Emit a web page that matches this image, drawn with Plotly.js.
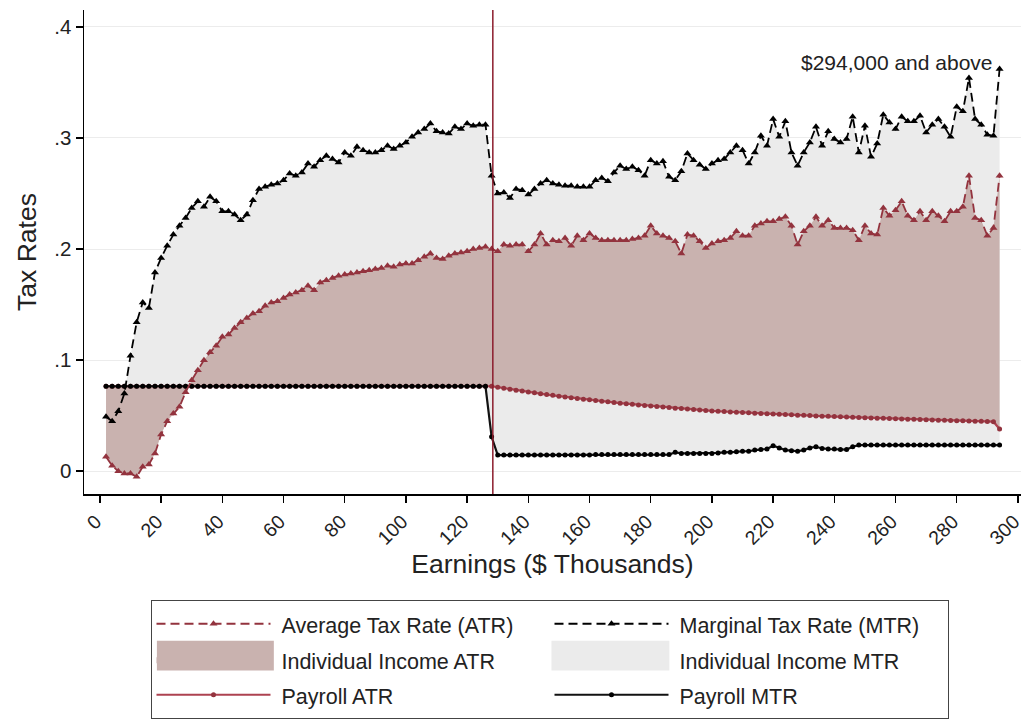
<!DOCTYPE html>
<html>
<head>
<meta charset="utf-8">
<script src="https://cdn.plot.ly/plotly-3.0.1.min.js"></script>
<style>html,body{margin:0;padding:0;background:#fff;}</style>
</head>
<body>
<div id="chart" style="width:1026px;height:724px;"></div>
<script>
// Earnings bins ($ thousands)
const earnings = [
  2,4,6,8,10,12,14,16,18,20,
  22,24,26,28,30,32,34,36,38,40,
  42,44,46,48,50,52,54,56,58,60,
  62,64,66,68,70,72,74,76,78,80,
  82,84,86,88,90,92,94,96,98,100,
  102,104,106,108,110,112,114,116,118,120,
  122,124,126,128,130,132,134,136,138,140,
  142,144,146,148,150,152,154,156,158,160,
  162,164,166,168,170,172,174,176,178,180,
  182,184,186,188,190,192,194,196,198,200,
  202,204,206,208,210,212,214,216,218,220,
  222,224,226,228,230,232,234,236,238,240,
  242,244,246,248,250,252,254,256,258,260,
  262,264,266,268,270,272,274,276,278,280,
  282,284,286,288,290,292,294
];

// Marginal Tax Rate (MTR)
const mtr = [
  0.049,0.045,0.054,0.070,0.104,0.134,0.152,0.147,0.179,0.192,
  0.203,0.213,0.221,0.228,0.237,0.243,0.238,0.247,0.243,0.234,
  0.234,0.231,0.226,0.231,0.244,0.254,0.256,0.258,0.259,0.262,
  0.268,0.266,0.269,0.277,0.274,0.280,0.284,0.281,0.278,0.287,
  0.284,0.292,0.289,0.287,0.287,0.289,0.293,0.290,0.293,0.296,
  0.301,0.305,0.308,0.313,0.306,0.305,0.304,0.310,0.308,0.313,
  0.311,0.312,0.312,0.266,0.250,0.251,0.246,0.254,0.253,0.249,
  0.254,0.259,0.262,0.259,0.258,0.257,0.257,0.256,0.256,0.256,
  0.262,0.264,0.261,0.269,0.275,0.272,0.274,0.271,0.266,0.280,
  0.277,0.279,0.265,0.262,0.270,0.286,0.280,0.276,0.272,0.277,
  0.280,0.281,0.287,0.293,0.289,0.277,0.287,0.302,0.293,0.317,
  0.301,0.315,0.287,0.275,0.287,0.296,0.310,0.293,0.306,0.299,
  0.296,0.299,0.319,0.287,0.311,0.283,0.295,0.321,0.314,0.308,
  0.319,0.315,0.315,0.320,0.305,0.312,0.317,0.310,0.301,0.328,
  0.324,0.354,0.317,0.312,0.303,0.302,0.362
];

// Average Tax Rate (ATR)
const atr = [
  0.013,0.005,0.000,-0.002,-0.002,-0.005,0.004,0.006,0.016,0.033,
  0.045,0.052,0.058,0.071,0.082,0.091,0.100,0.107,0.113,0.121,
  0.123,0.129,0.134,0.138,0.142,0.144,0.149,0.152,0.153,0.156,
  0.159,0.161,0.163,0.167,0.163,0.170,0.172,0.174,0.176,0.177,
  0.178,0.179,0.180,0.181,0.182,0.183,0.185,0.184,0.186,0.187,
  0.187,0.190,0.193,0.196,0.192,0.191,0.194,0.196,0.197,0.198,
  0.200,0.201,0.202,0.200,0.198,0.204,0.203,0.204,0.204,0.198,
  0.204,0.214,0.204,0.208,0.207,0.210,0.203,0.212,0.208,0.214,
  0.210,0.208,0.208,0.208,0.208,0.208,0.209,0.210,0.212,0.221,
  0.214,0.212,0.210,0.207,0.196,0.213,0.212,0.207,0.201,0.205,
  0.207,0.208,0.210,0.216,0.212,0.212,0.221,0.223,0.225,0.225,
  0.227,0.229,0.221,0.204,0.216,0.221,0.229,0.221,0.226,0.219,
  0.219,0.219,0.217,0.208,0.221,0.214,0.213,0.237,0.230,0.235,
  0.243,0.230,0.226,0.234,0.226,0.234,0.230,0.225,0.234,0.234,
  0.238,0.266,0.228,0.226,0.212,0.219,0.266
];

// Payroll ATR
const payrollAtr = [
  0.0765,0.0765,0.0765,0.0765,0.0765,0.0765,0.0765,0.0765,0.0765,0.0765,
  0.0765,0.0765,0.0765,0.0765,0.0765,0.0765,0.0765,0.0765,0.0765,0.0765,
  0.0765,0.0765,0.0765,0.0765,0.0765,0.0765,0.0765,0.0765,0.0765,0.0765,
  0.0765,0.0765,0.0765,0.0765,0.0765,0.0765,0.0765,0.0765,0.0765,0.0765,
  0.0765,0.0765,0.0765,0.0765,0.0765,0.0765,0.0765,0.0765,0.0765,0.0765,
  0.0765,0.0765,0.0765,0.0765,0.0765,0.0765,0.0765,0.0765,0.0765,0.0765,
  0.0765,0.0765,0.0765,0.0765,0.0757,0.0748,0.0739,0.0730,0.0722,0.0714,
  0.0706,0.0698,0.0690,0.0683,0.0676,0.0669,0.0662,0.0655,0.0649,0.0643,
  0.0636,0.0630,0.0625,0.0619,0.0613,0.0608,0.0603,0.0597,0.0592,0.0587,
  0.0582,0.0578,0.0573,0.0568,0.0564,0.0560,0.0555,0.0551,0.0547,0.0543,
  0.0540,0.0537,0.0534,0.0531,0.0528,0.0526,0.0523,0.0520,0.0518,0.0515,
  0.0513,0.0510,0.0508,0.0505,0.0503,0.0501,0.0498,0.0496,0.0494,0.0492,
  0.0490,0.0488,0.0485,0.0483,0.0481,0.0480,0.0478,0.0476,0.0474,0.0472,
  0.0470,0.0469,0.0467,0.0465,0.0463,0.0462,0.0460,0.0458,0.0457,0.0455,
  0.0454,0.0452,0.0450,0.0449,0.0447,0.0446,0.0380
];

// Payroll MTR
const payrollMtr = [
  0.0765,0.0765,0.0765,0.0765,0.0765,0.0765,0.0765,0.0765,0.0765,0.0765,
  0.0765,0.0765,0.0765,0.0765,0.0765,0.0765,0.0765,0.0765,0.0765,0.0765,
  0.0765,0.0765,0.0765,0.0765,0.0765,0.0765,0.0765,0.0765,0.0765,0.0765,
  0.0765,0.0765,0.0765,0.0765,0.0765,0.0765,0.0765,0.0765,0.0765,0.0765,
  0.0765,0.0765,0.0765,0.0765,0.0765,0.0765,0.0765,0.0765,0.0765,0.0765,
  0.0765,0.0765,0.0765,0.0765,0.0765,0.0765,0.0765,0.0765,0.0765,0.0765,
  0.0765,0.0765,0.0765,0.0310,0.0145,0.0145,0.0145,0.0145,0.0145,0.0145,
  0.0145,0.0145,0.0145,0.0145,0.0145,0.0145,0.0145,0.0145,0.0145,0.0145,
  0.0150,0.0150,0.0150,0.0150,0.0150,0.0150,0.0150,0.0150,0.0150,0.0150,
  0.0150,0.0150,0.0150,0.0170,0.0160,0.0160,0.0160,0.0160,0.0160,0.0160,
  0.0165,0.0170,0.0170,0.0175,0.0180,0.0180,0.0190,0.0195,0.0200,0.0230,
  0.0210,0.0190,0.0185,0.0180,0.0190,0.0210,0.0220,0.0205,0.0200,0.0200,
  0.0195,0.0195,0.0220,0.0235,0.0235,0.0235,0.0235,0.0235,0.0235,0.0235,
  0.0235,0.0235,0.0235,0.0235,0.0235,0.0235,0.0235,0.0235,0.0235,0.0235,
  0.0235,0.0235,0.0235,0.0235,0.0235,0.0235,0.0235
];

// Social Security wage base ($ thousands) marked by the vertical line
const wageBase = 128.4;

// Axis ticks
const xTickVals = [0,20,40,60,80,100,120,140,160,180,200,220,240,260,280,300];
const xTickText = ['0','20','40','60','80','100','120','140','160','180','200','220','240','260','280','300'];
const yTickVals = [0,0.1,0.2,0.3,0.4];
const yTickText = ['0','.1','.2','.3','.4'];

const annotationText = '$294,000 and above';

const FONT = '"Liberation Sans", Arial, Helvetica, sans-serif';
const CRAN = '#93333e';
const CRAN_LIGHT = '#ad4250';
const BROWN_FILL = '#c9b2af';
const GREY_FILL = '#ebebeb';

function lg(t) { return '<span style="font-size:21.5px">&nbsp;' + t + '</span>'; }

const traces = [
  { x: earnings, y: payrollMtr, mode: 'lines', line: {width: 0, color: 'rgba(0,0,0,0)'},
    showlegend: false, hoverinfo: 'skip' },
  { x: earnings, y: mtr, mode: 'lines', fill: 'tonexty', fillcolor: GREY_FILL,
    line: {width: 0, color: GREY_FILL}, name: lg('Individual Income MTR'), legendrank: 4, hoverinfo: 'skip' },
  { x: earnings, y: payrollAtr, mode: 'lines', line: {width: 0, color: 'rgba(0,0,0,0)'},
    showlegend: false, hoverinfo: 'skip' },
  { x: earnings, y: atr, mode: 'lines', fill: 'tonexty', fillcolor: BROWN_FILL,
    line: {width: 0, color: BROWN_FILL}, name: lg('Individual Income ATR'), legendrank: 3, hoverinfo: 'skip' },
  { x: earnings, y: payrollAtr, mode: 'lines+markers', line: {color: CRAN_LIGHT, width: 2.2},
    marker: {symbol: 'circle', size: 5, color: CRAN}, name: lg('Payroll ATR'), legendrank: 5 },
  { x: earnings, y: payrollMtr, mode: 'lines+markers', line: {color: '#111', width: 2.2},
    marker: {symbol: 'circle', size: 5, color: '#000'}, name: lg('Payroll MTR'), legendrank: 6 },
  { x: earnings, y: atr, mode: 'lines+markers', line: {color: CRAN, width: 1.8, dash: '9px,5px'},
    marker: {symbol: 'triangle-up', size: 7, color: CRAN}, name: lg('Average Tax Rate (ATR)'), legendrank: 1 },
  { x: earnings, y: mtr, mode: 'lines+markers', line: {color: '#000', width: 1.8, dash: '9px,5px'},
    marker: {symbol: 'triangle-up', size: 7, color: '#000'}, name: lg('Marginal Tax Rate (MTR)'), legendrank: 2 }
];

const layout = {
  width: 1026, height: 724,
  margin: {l: 84, r: 5, t: 10, b: 226},
  paper_bgcolor: '#ffffff', plot_bgcolor: '#ffffff',
  font: {family: FONT, color: '#222', size: 20},
  showlegend: true,
  hovermode: false,
  xaxis: {
    range: [-5.2, 301], tickmode: 'array', tickvals: xTickVals, ticktext: xTickText, tickangle: -45,
    ticks: 'outside', ticklen: 7, tickwidth: 1.5, tickcolor: '#000',
    ticklabeloverflow: 'allow', ticklabelshift: -4,
    showline: true, linecolor: '#000', linewidth: 1.5,
    showgrid: false, zeroline: false,
    tickfont: {size: 19.5, color: '#222'},
    title: {text: 'Earnings ($ Thousands)', font: {size: 26.5, color: '#222'}, standoff: 5}
  },
  yaxis: {
    range: [-0.0205, 0.4152], tickmode: 'array', tickvals: yTickVals, ticktext: yTickText,
    ticks: 'outside', ticklen: 7, tickwidth: 1.5, tickcolor: '#000',
    showline: true, linecolor: '#000', linewidth: 1.5,
    showgrid: true, gridcolor: '#ececec', gridwidth: 1, zeroline: false,
    tickfont: {size: 20.5, color: '#222'},
    title: {text: 'Tax Rates', font: {size: 26.5, color: '#222'}, standoff: 10}
  },
  legend: {
    orientation: 'h', x: 0.4968, xanchor: 'center', y: -0.219, yanchor: 'top',
    bordercolor: '#444', borderwidth: 1, bgcolor: 'rgba(255,255,255,0)',
    font: {size: 25, color: '#222'},
    itemwidth: 114, entrywidth: 269, entrywidthmode: 'pixels', traceorder: 'normal'
  },
  shapes: [
    { type: 'line', xref: 'x', yref: 'paper', x0: wageBase, x1: wageBase, y0: 0, y1: 1,
      line: {color: '#8b1c2c', width: 1.5}, layer: 'above' },
    // larger legend patches for the two filled areas
    { type: 'rect', xref: 'paper', yref: 'paper', x0: 0.0778, x1: 0.2026, y0: -0.3648, y1: -0.3033,
      fillcolor: BROWN_FILL, line: {width: 0}, layer: 'above' },
    { type: 'rect', xref: 'paper', yref: 'paper', x0: 0.4989, x1: 0.6247, y0: -0.3648, y1: -0.3033,
      fillcolor: GREY_FILL, line: {width: 0}, layer: 'above' }
  ],
  annotations: [
    { x: earnings[earnings.length - 1], y: mtr[mtr.length - 1], xref: 'x', yref: 'y',
      text: annotationText, showarrow: false, xanchor: 'right', yanchor: 'middle',
      xshift: -5, yshift: 7, font: {size: 21, color: '#222'} }
  ]
};

Plotly.newPlot('chart', traces, layout, {staticPlot: true, displayModeBar: false});
</script>
</body>
</html>
